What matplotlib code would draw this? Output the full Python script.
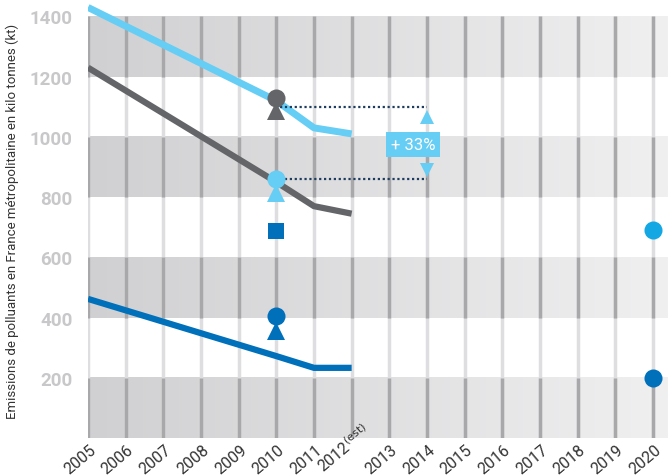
import numpy as np
import matplotlib
matplotlib.use("Agg")
import matplotlib.pyplot as plt
import matplotlib.transforms as mtransforms
from matplotlib.colors import LinearSegmentedColormap

plt.rcParams['font.family'] = ['Roboto', 'DejaVu Sans']

# data
years = list(range(2005, 2021))
year_labels = [str(y) for y in years]
year_labels[7] = r"2012$^{\mathrm{(est)}}$"

line_years = [2005, 2010, 2011, 2012]
light_blue = [1430, 1120, 1030, 1010]
dark_gray = [1230, 850, 770, 745]
dark_blue = [462, 272, 233, 233]

# 2010 targets / objectives
gray_circle_2010 = 1130
gray_tri_2010 = 1085
lb_circle_2010 = 860
lb_tri_2010 = 815
db_square_2010 = 688
db_circle_2010 = 405
db_tri_2010 = 355

# 2020 objectives
lb_circle_2020 = 692
db_circle_2020 = 200

bands = [(0, 200), (400, 600), (800, 1000), (1200, 1400)]

c_lb = '#66cdf5'
c_lb2 = '#13a8e4'
c_gray = '#646568'
c_db = '#0070bb'
c_dot = '#1d3c5e'

fig = plt.figure(figsize=(6.68, 4.77), dpi=100)
ax = fig.add_axes([88 / 668, 38 / 477, 580 / 668, 439 / 477])
xmin, xmax = 2005, 2020.4
ymin, ymax = 0, 1458

# gradient bands
cmap = LinearSegmentedColormap.from_list('band', ['#d0d0d2', '#f0f0f1'])
grad = np.linspace(0, 1, 256).reshape(1, -1)
for lo, hi in bands:
    ax.imshow(grad, extent=[xmin, xmax, lo, hi], aspect='auto', cmap=cmap, zorder=0)

# vertical year lines, darker inside gray bands
for y in years:
    ax.vlines(y, 0, 1400, color='#dedee0', lw=2.5, zorder=1)
    for lo, hi in bands:
        ax.vlines(y, lo, hi, color='#a8a8aa', lw=2.5, zorder=1)

ax.plot(line_years, light_blue, color=c_lb, lw=5, solid_capstyle='butt', zorder=3)
ax.plot(line_years, dark_gray, color=c_gray, lw=4.5, solid_capstyle='butt', zorder=3)
ax.plot(line_years, dark_blue, color=c_db, lw=4.5, solid_capstyle='butt', zorder=3)

# dotted comparison lines
ax.hlines(1098, 2010.1, 2014, colors=c_dot, linestyles=(0, (1, 1.2)), lw=1.6, zorder=4)
ax.hlines(860, 2010.1, 2014, colors=c_dot, linestyles=(0, (1, 1.2)), lw=1.6, zorder=4)

ax.plot(2010, gray_tri_2010, marker='^', color=c_gray, ms=13, mew=0, zorder=5)
ax.plot(2010, gray_circle_2010, marker='o', color=c_gray, ms=13, mew=0, zorder=6)
ax.plot(2010, lb_tri_2010, marker='^', color=c_lb, ms=13, mew=0, zorder=5)
ax.plot(2010, lb_circle_2010, marker='o', color=c_lb, ms=13, mew=0, zorder=6)
ax.plot(2010, db_square_2010, marker='s', color=c_db, ms=11.5, mew=0, zorder=5)
ax.plot(2010, db_tri_2010, marker='^', color=c_db, ms=13, mew=0, zorder=5)
ax.plot(2010, db_circle_2010, marker='o', color=c_db, ms=13, mew=0, zorder=6)

ax.plot(2020, lb_circle_2020, marker='o', color=c_lb2, ms=13, mew=0, zorder=6, clip_on=False)
ax.plot(2020, db_circle_2020, marker='o', color=c_db, ms=13, mew=0, zorder=6, clip_on=False)

# +33% indicator
ax.plot(2014, 1066, marker='^', color=c_lb, ms=10, mew=0, zorder=5)
ax.plot(2014, 890, marker='v', color=c_lb, ms=10, mew=0, zorder=5)
ax.text(2013.63, 975, '+ 33%', color='white', fontsize=12, ha='center', va='center',
        bbox=dict(boxstyle='square,pad=0.3', fc=c_lb, ec='none'), zorder=6)

ax.set_xlim(xmin, xmax)
ax.set_ylim(ymin, ymax)
ax.set_xticks(years)
ax.set_xticklabels([])

# year labels drawn as texts so they can be offset freely
for i, (yr, lab) in enumerate(zip(years, year_labels)):
    dx = 1 if i != 7 else 10
    dy = -4 if i != 7 else 18
    tr = ax.get_xaxis_transform() + mtransforms.ScaledTranslation(
        dx / 100, dy / 100, fig.dpi_scale_trans)
    ax.text(yr, 0, lab, transform=tr, rotation=40, ha='right', va='top',
            rotation_mode='anchor', fontsize=11.5, color='#333333', clip_on=False)

ax.set_yticks([200, 400, 600, 800, 1000, 1200, 1400])
ax.set_yticklabels(['200', '400', '600', '800', '1000', '1200', '1400'],
                   fontsize=13.5, fontweight='bold', color='#c8c8ca')
ax.tick_params(axis='both', length=0)
ax.tick_params(axis='y', pad=11)
for s in ax.spines.values():
    s.set_visible(False)

fig.text(0.018, 0.535, 'Emissions de polluants en France métropolitaine en kilo tonnes (kt)',
         rotation=90, ha='center', va='center', fontsize=9.5, color='#333333')

fig.savefig('out.png', dpi=100)
